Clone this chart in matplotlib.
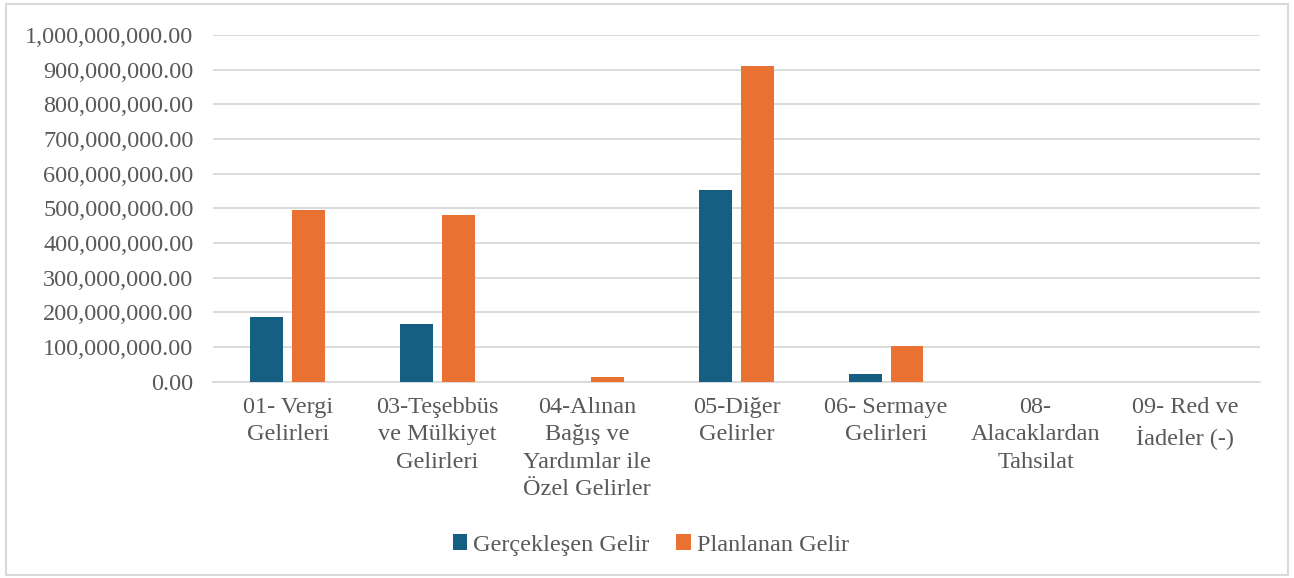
import matplotlib
matplotlib.use("Agg")
import matplotlib.pyplot as plt
import numpy as np
from matplotlib.ticker import FuncFormatter
from matplotlib.patches import Rectangle

plt.rcParams['font.family'] = ['Liberation Serif', 'DejaVu Serif']

# kategoriler
kategoriler = ["01- Vergi\nGelirleri",
               "03-Teşebbüs\nve Mülkiyet\nGelirleri",
               "04-Alınan\nBağış ve\nYardımlar ile\nÖzel Gelirler",
               "05-Diğer\nGelirler",
               "06- Sermaye\nGelirleri",
               "08-\nAlacaklardan\nTahsilat",
               "09- Red ve\nİadeler (-)"]
gerceklesen = [187e6, 166e6, 0.5e6, 552e6, 21e6, 0, 0]
planlanan = [495e6, 480e6, 15e6, 911e6, 103e6, 0, 0]
seriler = ["Gerçekleşen Gelir", "Planlanan Gelir"]

mavi = "#156082"
turuncu = "#E97132"
gri_yazi = "#595959"
grid_renk = "#D9D9D9"

fig = plt.figure(figsize=(12.94, 5.78), dpi=100)
ax = fig.add_axes([0.1646, 0.3396, 0.8091, 0.5998])

x = np.arange(len(kategoriler))
w = 0.22
ax.bar(x - 0.14, gerceklesen, w, color=mavi, label=seriler[0], zorder=3)
ax.bar(x + 0.14, planlanan, w, color=turuncu, label=seriler[1], zorder=3)

ax.set_xlim(-0.5, len(kategoriler) - 0.5)
ax.set_ylim(0, 1e9)
ax.set_yticks(np.arange(0, 1.01e9, 1e8))
ax.yaxis.set_major_formatter(FuncFormatter(lambda v, p: "{:,.2f}".format(v)))
ax.grid(axis='y', color=grid_renk, linewidth=1.3, zorder=0)

ax.set_xticks(x)
ax.set_xticklabels(kategoriler, linespacing=1.4, va='top')
ax.tick_params(axis='both', length=0, labelsize=17.5, colors=gri_yazi)
ax.tick_params(axis='y', pad=14)
ax.tick_params(axis='x', pad=11)

for s in ['top', 'right', 'left']:
    ax.spines[s].set_visible(False)
ax.spines['bottom'].set_color(grid_renk)
ax.spines['bottom'].set_linewidth(1.3)

leg = fig.legend(loc='center', bbox_to_anchor=(0.503, 0.057), ncol=2, frameon=False,
                 fontsize=17.5, handlelength=0.6, handleheight=0.6, handletextpad=0.25,
                 columnspacing=1.1)
for t in leg.get_texts():
    t.set_color(gri_yazi)

# grafik alanı çerçevesi
fig.patches.append(Rectangle((0.0046, 0.005), 0.9907, 0.988, transform=fig.transFigure,
                             fill=False, edgecolor=grid_renk, linewidth=1.5))

fig.savefig("out.png", dpi=100)
